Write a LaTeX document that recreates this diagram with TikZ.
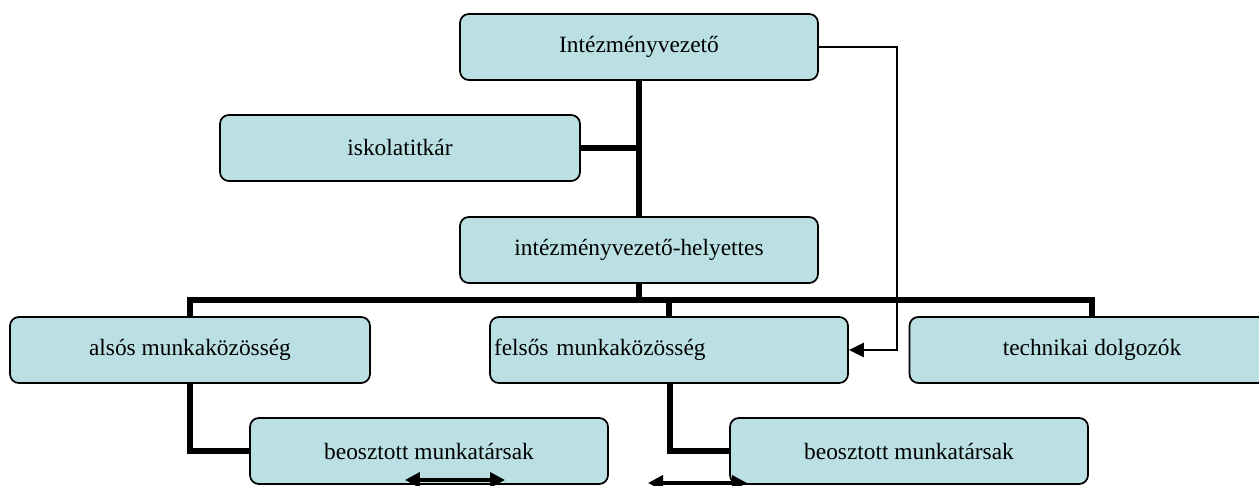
\documentclass[tikz,border=0pt]{standalone}
\usepackage{fontspec}
\setmainfont{Liberation Serif}
\usepackage{xcolor}
\usetikzlibrary{arrows.meta,positioning,calc,backgrounds}
\definecolor{boxfill}{RGB}{187,224,227}

\begin{document}
\begin{tikzpicture}[
  x=0.02cm,y=0.02cm,
  box/.style={draw,line width=1pt,rounded corners=5pt,fill=boxfill,align=center,
              minimum width=7.16cm,minimum height=1.32cm,inner sep=2pt,
              font=\fontsize{13.3}{15}\selectfont},
  link/.style={line width=3.4pt},
  thin/.style={line width=1.5pt},
  ar/.style={thin,-{Triangle[length=3mm,width=2.8mm]}},
  dbl/.style={line width=2pt,{Triangle[length=3mm,width=3mm]}-{Triangle[length=3mm,width=3mm]}}
]
\clip (0,0) rectangle (1259,486);

\node[box] (head) at (639,439) {Intézményvezető};
\node[box,minimum width=7.2cm] (titkar) at (400,338) {iskolatitkár};
\node[box] (helyettes) at (639,236) {intézményvezető-helyettes};
\node[box,minimum width=7.2cm] (also) at (190,136) {alsós munkaközösség};
\node[box,text width=7.0cm,align=left,inner xsep=0.08cm] (felso) at (669,136) {felsős munkaközösség};
\node[box,minimum width=7.3cm] (tech) at (1092,136) {technikai dolgozók};
\node[box] (beoA) at (429,35) {beosztott munkatársak};
\node[box] (beoB) at (909,35) {beosztott munkatársak};

\coordinate (bar) at (639,186);
\coordinate (side) at (897,439);

\begin{scope}[on background layer]
\fill[white] (0,0) rectangle (1259,486);
\draw[link] (head.south) -- (helyettes.north);
\draw[link] (titkar.east) -- (titkar.east -| head.south);
\draw[link] (helyettes.south) -- (bar);
\draw[link] (also.north) |- (bar) -| (tech.north);
\draw[link] (felso.north -| 669,0) -- (669,186);
\draw[link] (also.south) |- (beoA.west);
\draw[link] (felso.south -| 670,0) |- (beoB.west);
\draw[ar] (head.east) -- (side) |- (felso.east);
\end{scope}

\coordinate (la) at (405,6);
\coordinate (lb) at (505,6);
\coordinate (ra) at (648,3);
\coordinate (rb) at (747,3);
\draw[dbl] (la) -- (lb);
\draw[dbl] (ra) -- (rb);
\end{tikzpicture}
\end{document}
